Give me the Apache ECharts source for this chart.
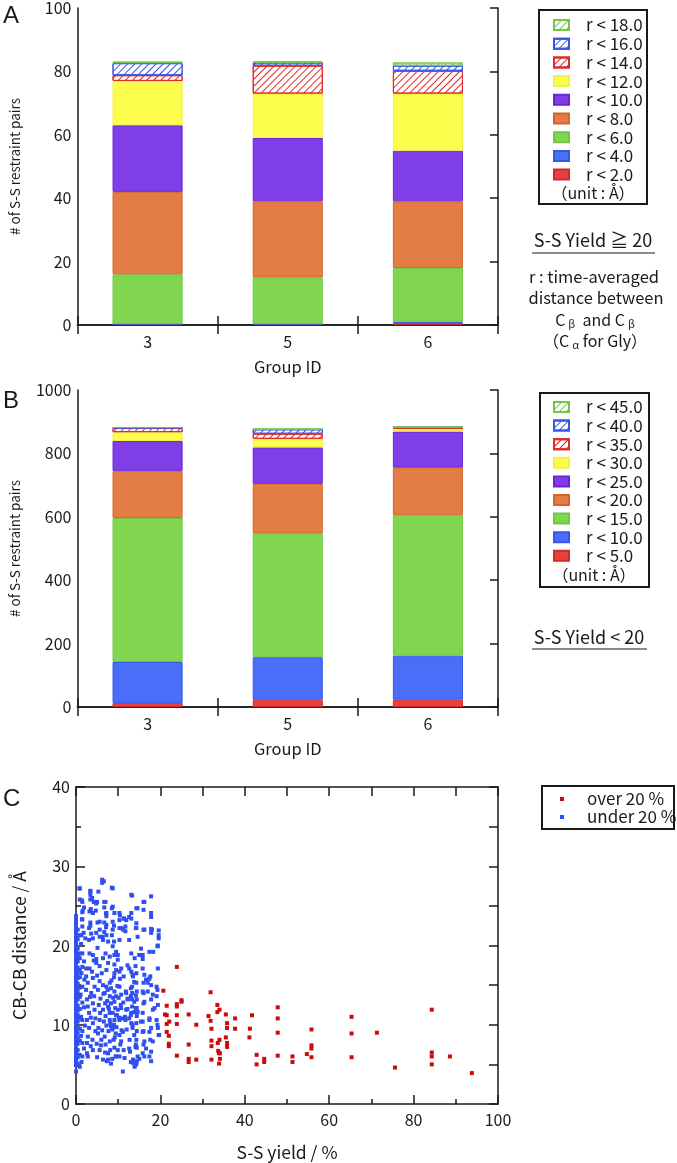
<!DOCTYPE html>
<html><head><meta charset="utf-8">
<script src="https://cdn.jsdelivr.net/npm/echarts@6/dist/echarts.min.js"></script>
<style>html,body{margin:0;padding:0;background:#fff}#c{width:677px;height:1163px}</style>
</head><body><div id="c"></div>
<script>
// ---------- DATA ----------
const groups = ['3', '5', '6'];

// Panel A (S-S Yield >= 20), stacked bottom -> top
const namesA = ['r < 2.0', 'r < 4.0', 'r < 6.0', 'r < 8.0', 'r < 10.0', 'r < 12.0', 'r < 14.0', 'r < 16.0', 'r < 18.0'];
const aR2  = [0.3, 0.3, 0.3];
const aR4  = [0, 0, 0.7];
const aR6  = [15.7, 14.7, 17.0];
const aR8  = [26, 24, 21];
const aR10 = [21, 20, 16];
const aR12 = [14, 14, 18];
const aR14 = [1.8, 8.8, 7.2];
const aR16 = [3.8, 1.0, 1.6];
const aR18 = [0.5, 0.3, 1.0];

// Panel B (S-S Yield < 20)
const namesB = ['r < 5.0', 'r < 10.0', 'r < 15.0', 'r < 20.0', 'r < 25.0', 'r < 30.0', 'r < 35.0', 'r < 40.0', 'r < 45.0'];
const bR5  = [13, 23, 23];
const bR10 = [129, 134, 139];
const bR15 = [454, 391, 444];
const bR20 = [149, 156, 149];
const bR25 = [94, 115, 114];
const bR30 = [28, 27, 9];
const bR35 = [13, 16, 4];
const bR40 = [1.5, 14, 0.5];
const bR45 = [0.5, 1, 0.3];

// Panel C scatter: [S-S yield %, CB-CB distance A]
const overName = 'over 20 %';
const underName = 'under 20 %';
const overPts = [[23.9,17.3],[20.7,14.3],[31.9,14.1],[25.0,13.1],[25.0,12.9],[23.9,12.6],[23.9,12.3],[21.5,12.4],[33.5,12.5],[34.0,11.9],[33.5,11.6],[35.5,11.3],[47.8,12.2],[41.7,11.2],[37.7,10.8],[26.7,11.3],[23.9,11.2],[21.1,11.3],[21.5,11.2],[31.4,11.1],[31.9,10.5],[22.1,10.4],[21.5,10.1],[23.9,10.1],[28.5,10.0],[35.8,10.2],[35.8,9.6],[37.7,9.5],[32.1,9.5],[41.2,9.5],[47.8,10.8],[47.8,9.0],[55.8,9.4],[65.3,11.0],[65.3,8.9],[71.3,9.0],[84.3,11.9],[21.5,9.1],[22.0,8.6],[41.1,8.4],[35.5,8.4],[34.0,8.1],[32.1,8.0],[22.0,7.6],[22.0,7.3],[26.7,7.5],[32.1,7.3],[35.8,7.7],[35.8,7.2],[33.6,7.7],[55.8,7.4],[55.8,7.0],[33.7,6.7],[34.1,6.4],[33.9,6.4],[23.9,6.1],[26.7,5.7],[26.7,5.3],[28.5,5.6],[32.1,5.6],[34.1,5.7],[33.9,5.1],[42.8,6.2],[42.8,5.0],[44.6,5.7],[44.6,5.3],[47.8,6.1],[51.3,6.0],[51.3,5.3],[54.7,6.3],[55.8,5.9],[65.3,5.9],[75.6,4.6],[84.3,6.5],[84.3,6.0],[84.3,5.0],[88.6,6.0],[93.8,3.9]];
const underPts = [
[0,4.1],[0,4.9],[0,5.4],[0,5.8],[0,6.3],[0,6.6],[0,7.0],[0,7.5],[0,7.9],[0,8.2],[0,8.6],[0,9.1],[0,9.4],[0,9.8],[0,10.3],[0,10.6],[0,11.0],[0,11.4],[0,11.9],[0,12.2],[0,12.6],[0,13.1],[0,13.4],[0,13.8],[0,14.3],[0,14.6],[0,15.0],[0,15.5],[0,15.8],[0,16.2],[0,16.7],[0,17.0],[0,17.4],[0,17.9],[0,18.2],[0,18.6],[0,19.1],[0,19.4],[0,19.8],[0,20.3],[0,20.6],[0,21.0],[0,21.5],[0,21.9],[0,22.3],[0,22.8],[0,23.2],[0,23.7],
[0.4,5.1],[0.4,5.9],[0.4,6.8],[0.4,7.6],[0.4,8.4],[0.4,9.0],[0.4,9.7],[0.4,10.4],[0.4,11.2],[0.4,11.8],[0.4,12.4],[0.4,13.2],[0.4,13.9],[0.4,14.4],[0.4,15.2],[0.4,15.9],[0.4,16.5],[0.4,17.2],[0.4,18.0],[0.4,18.8],[0.4,19.6],[0.4,20.8],[0.4,22.0],
[0.9,4.7],[0.9,6.2],[0.9,8.0],[0.9,9.5],[0.9,10.8],[0.9,12.0],[0.9,13.5],[0.9,14.7],[0.9,16.0],[0.9,16.9],[0.9,18.4],[0.9,19.0],[0.9,21.3],[0.9,25.8],[0.9,27.2],
[1.5,6.0],[1.5,7.7],[1.5,9.2],[1.5,10.6],[1.5,12.8],[1.5,14.8],[1.5,17.3],[1.5,19.0],[1.5,22.4],[1.5,23.3],[1.5,24.2],[1.5,25.5],
[2.4,17.1],[3.2,17.1],[3.4,26.9],[3.4,26.4],[3.4,25.8],[5.3,26.8],[4.8,25.3],[6.2,28.3],[6.2,27.9],[7.0,25.5],[8.7,27.2],[8.7,24.9],[13.1,26.4],[16.0,25.5],[17.8,26.2],[3.2,24.3],[4.0,24.1],[7.2,24.1],[7.2,23.7],[9.1,24.1],[10.3,24.1],[10.3,23.2],[11.3,23.4],[11.9,23.2],[13.1,24.1],[13.1,23.4],[14.3,24.7],[16.0,24.5],[17.8,24.1],[17.8,23.6],[5.6,23.0],[5.6,22.0],[7.2,22.6],[4.8,21.6],[1.8,21.6],[3.1,22.2],[8.7,23.0],[8.7,22.0],[10.3,22.2],[11.7,22.4],[11.7,21.8],[14.3,22.8],[14.3,22.2],[16.0,22.0],[17.8,22.1],[17.8,21.6],[19.6,21.9],[19.6,21.3],[19.4,20.0],[5.6,21.1],[6.4,20.7],[7.2,21.3],[7.6,20.5],[3.1,20.7],[10.3,20.7],[8.7,19.9],[9.5,19.2],[3.2,19.0],[4.0,18.8],[7.0,19.0],[8.0,18.6],[9.1,18.8],[9.9,18.8],[9.9,18.2],[13.1,19.0],[13.9,18.4],[15.8,18.8],[15.8,18.3],[18.3,19.2],[4.8,18.3],[4.8,17.8],[5.6,17.4],[7.6,17.8],[7.2,16.9],[9.1,17.6],[9.5,16.9],[9.1,16.5],[10.7,17.1],[11.3,16.1],[13.1,16.7],[13.5,16.1],[14.1,17.4],[14.3,16.5],[14.3,15.3],[16.2,16.3],[16.6,15.7],[17.6,16.1],[19.4,17.1],[2.4,16.1],[2.8,15.3],[2.4,14.4],[4.0,15.9],[4.4,14.8],[5.6,15.5],[5.2,14.4],[6.4,15.0],[7.2,14.8],[6.8,14.0],[8.0,15.3],[8.3,14.6],[8.0,13.6],[9.1,14.2],[9.5,13.6],[9.1,12.9],[10.3,14.8],[10.7,13.8],[11.9,14.0],[12.3,13.2],[13.3,14.8],[13.3,14.0],[13.3,13.2],[13.3,12.3],[14.4,14.2],[14.4,13.2],[14.4,12.1],[14.4,11.1],[16.0,15.3],[16.0,14.0],[16.0,12.7],[17.0,15.3],[17.0,14.2],[17.8,13.2],[18.2,11.9],[19.1,14.8],[19.1,13.6],[19.4,12.5],[2.6,13.2],[2.8,12.3],[3.1,11.5],[4.0,12.7],[4.4,11.9],[5.4,12.5],[5.7,11.5],[5.6,10.6],[6.4,11.9],[7.0,11.1],[7.6,12.3],[8.0,11.5],[8.0,10.6],[8.3,9.8],[8.7,11.5],[9.1,10.6],[8.7,9.6],[9.4,8.9],[9.9,11.9],[10.3,10.6],[11.9,11.9],[11.7,10.6],[12.0,9.4],[13.1,11.5],[13.1,10.2],[14.3,10.2],[14.4,9.2],[14.3,8.1],[15.8,11.5],[15.8,10.4],[16.0,9.2],[17.4,10.6],[17.8,9.6],[17.6,8.1],[19.1,10.6],[19.4,9.6],[19.6,8.7],[2.6,10.6],[3.1,9.6],[2.8,8.5],[4.0,10.2],[4.6,9.2],[5.2,8.9],[6.0,8.1],[6.8,8.5],[7.0,7.5],[7.6,6.4],[8.0,7.9],[8.1,6.8],[8.9,8.1],[9.1,7.1],[9.4,6.0],[10.3,8.7],[10.5,7.5],[11.3,6.8],[11.5,5.8],[12.7,8.1],[12.8,6.6],[13.5,5.6],[13.9,4.7],[14.4,7.1],[14.6,6.0],[16.0,7.5],[15.8,6.4],[17.8,6.6],[17.8,5.4],[2.6,7.7],[2.6,6.4],[2.8,6.0],[4.0,6.8],[5.6,6.8],[7.6,5.6],[9.5,6.0],[11.1,4.1],[7.3,5.4],
[7.4,13.0],[7.8,12.0],[8.3,12.7],[8.8,13.4],[9.3,12.1],[9.7,11.2],[8.1,10.1],[8.6,9.4],[9.0,10.0],[9.6,9.7],[9.2,8.4],[7.2,9.9],[7.7,9.2],[6.6,10.4],[6.9,12.7],[7.5,14.4],[8.4,15.6],[9.0,16.0],[9.8,14.9],[10.1,13.4],[10.6,12.5],[10.2,10.9],[10.8,9.3],[11.2,12.8],[11.6,11.0],[12.2,12.0],[12.6,10.8],[13.0,13.6],[13.4,9.6],[13.8,11.6],[14.2,13.7],[14.6,11.6],[14.1,7.2],[14.4,5.4],[13.9,4.9],[14.3,5.0],[13.5,5.2],
[13.3,26.3],[16.2,25.5],[10.4,23.8],[11.4,23.4],[12.6,23.6],[14.6,24.7],[10.7,22.2],[11.2,22.0],[14.2,22.2],[14.6,21.1],[16.2,22.0],[18.0,22.0],[12.6,20.7],[19.6,20.9],[19.3,19.9],[15.4,19.6],[15.0,18.8],[17.4,19.2],[12.2,17.5],[12.6,17.1],[10.3,16.7],[10.4,15.8],[13.4,16.3],[13.8,15.4],[15.8,17.1],[17.4,15.8],[17.8,15.0],[19.3,14.4],[11.8,14.2],[12.2,13.3],[13.0,14.6],[13.8,12.9],[14.2,12.1],[15.8,14.2],[16.2,12.9],[18.2,13.8],[18.6,12.1],[10.7,12.1],[11.1,10.8],[9.5,11.2],[13.0,11.2],[13.4,10.0],[15.4,10.4],[15.8,9.1],[17.4,10.8],[17.4,9.1],[19.3,10.0],[19.7,8.7],[11.1,9.1],[10.7,7.9],[13.8,8.7],[14.2,7.5],[16.2,7.9],[16.6,7.0],[18.2,7.9],[9.9,6.8],[10.3,6.0],[12.6,7.0],[13.0,5.3],[15.0,5.7],[16.2,6.0],[17.4,6.0],
[6.6,28.1],[0.8,27.2],[3.4,26.8],[3.8,26.0],[8.5,27.3],[1.4,25.7],[4.2,25.5],[5.0,25.5],[6.7,25.5],[1.9,24.8],[1.6,24.4],[3.5,24.6],[4.7,24.4],[8.5,24.7],[6.7,24.8],[7.1,24.0],[3.4,22.9],[3.4,22.5],[5.1,22.9],[1.4,23.3],[6.7,22.9],[7.1,22.3],[9.0,22.5],[1.3,21.3],[2.2,20.9],[3.6,21.5],[4.0,20.9],[6.7,21.7],[6.3,21.1],[8.5,21.3],[9.0,20.5],
[1.2,11.0],[1.9,12.2],[1.1,13.8],[2.0,15.7],[1.3,16.5],[1.9,18.0],[1.2,20.2],[2.1,9.9],[1.2,8.6],[1.9,7.0],[1.3,5.3],[3.6,14.0],[3.3,13.5],[3.8,16.7],[4.2,18.1],[5.0,16.2],[5.8,13.3],[6.1,16.5],[6.4,18.4],[5.1,19.7],[4.3,13.6],[3.5,10.9],[4.6,10.8],[5.3,9.6],[6.2,9.3],[6.5,13.9],[5.9,7.4],[4.9,7.6],[3.9,8.1],[3.5,7.3],[5.0,5.9],[6.4,5.6],[8.3,5.1],[8.6,5.7],[6.9,6.5]
];

// ---------- STYLE ----------
const FONT = '"Noto Sans CJK JP", "Noto Sans", sans-serif';
const INK = '#1a1a1a';
const barStyles = [
  {fill: '#e54141', border: '#d22a2a', hatch: false},
  {fill: '#4a6ef8', border: '#3557ea', hatch: false},
  {fill: '#80d64e', border: '#72c645', hatch: false},
  {fill: '#e37d45', border: '#d5652d', hatch: false},
  {fill: '#7f3ee6', border: '#6b24d8', hatch: false},
  {fill: '#fdfd4e', border: '#f2f245', hatch: false},
  {fill: '#ffffff', border: '#e02a2a', hatch: true},
  {fill: '#ffffff', border: '#3557ea', hatch: true},
  {fill: '#ffffff', border: '#72c645', hatch: true}
];

function barSeries(names, arrays, stack, xi, yi) {
  return names.map((nm, i) => {
    const st = barStyles[i];
    const itemStyle = {color: st.fill, borderColor: st.border, borderWidth: 1};
    if (st.hatch) {
      itemStyle.decal = {symbol: 'rect', symbolSize: 1, dashArrayX: [1, 0], dashArrayY: [1, 4],
        rotation: -Math.PI / 4, color: st.border};
    }
    return {name: nm, type: 'bar', stack: stack, xAxisIndex: xi, yAxisIndex: yi,
      data: arrays[i], barWidth: '50%', itemStyle: itemStyle, emphasis: {disabled: true}};
  });
}

const seriesA = barSeries(namesA, [aR2, aR4, aR6, aR8, aR10, aR12, aR14, aR16, aR18], 'A', 0, 0);
const namesBKey = namesB.map(n => n + ' '); // distinct keys from panel A names
const seriesB = barSeries(namesBKey, [bR5, bR10, bR15, bR20, bR25, bR30, bR35, bR40, bR45], 'B', 2, 2);

const GL = 76, GW = 422, GH = 317;
const grids = [
  {left: GL, top: 8, width: GW, height: GH},
  {left: GL, top: 390, width: GW, height: GH},
  {left: GL, top: 787, width: GW, height: GH}
];
const lineStyle = {color: INK, width: 1.5};
const labelStyle = {fontFamily: FONT, fontSize: 16, color: INK};
const yNameAB = {fontFamily: FONT, fontSize: 13.5, color: INK};
const xNameAB = {fontFamily: FONT, fontSize: 16.5, color: INK};
const nameC = {fontFamily: FONT, fontSize: 17.5, color: INK};

function catAxes(gi) {
  return [
    {type: 'category', gridIndex: gi, data: groups, position: 'bottom',
      axisLine: {show: true, lineStyle}, axisTick: {show: true, inside: true, length: 9, lineStyle},
      axisLabel: Object.assign({margin: 9}, labelStyle),
      name: 'Group ID', nameLocation: 'middle', nameGap: 33, nameTextStyle: xNameAB},
    {type: 'category', gridIndex: gi, data: groups, position: 'top',
      axisLine: {show: true, lineStyle}, axisTick: {show: true, inside: true, length: 9, lineStyle},
      axisLabel: {show: false}}
  ];
}
function valAxesY(gi, max, interval, name) {
  return [
    {type: 'value', gridIndex: gi, min: 0, max: max, interval: interval, position: 'left',
      axisLine: {show: true, lineStyle}, axisTick: {show: false}, splitLine: {show: false},
      axisLabel: Object.assign({margin: 6, formatter: v => String(v)}, labelStyle),
      name: name, nameLocation: 'middle', nameGap: 56, nameRotate: 90, nameTextStyle: yNameAB},
    {type: 'value', gridIndex: gi, min: 0, max: max, interval: interval, position: 'right',
      axisLine: {show: true, lineStyle}, axisTick: {show: true, inside: true, length: 8, lineStyle},
      splitLine: {show: false}, axisLabel: {show: false}}
  ];
}

const xAxes = [].concat(catAxes(0), catAxes(1), [
  {type: 'value', gridIndex: 2, min: 0, max: 100, interval: 20, position: 'bottom',
    axisLine: {show: true, onZero: false, lineStyle}, axisTick: {show: true, inside: true, length: 9, lineStyle},
    minorTick: {show: true, splitNumber: 2, length: 5, lineStyle}, splitLine: {show: false},
    axisLabel: Object.assign({margin: 8}, labelStyle),
    name: 'S-S yield / %', nameLocation: 'middle', nameGap: 40, nameTextStyle: nameC},
  {type: 'value', gridIndex: 2, min: 0, max: 100, interval: 20, position: 'top',
    axisLine: {show: true, onZero: false, lineStyle}, axisTick: {show: true, inside: true, length: 9, lineStyle},
    minorTick: {show: true, splitNumber: 2, length: 9, lineStyle}, splitLine: {show: false}, axisLabel: {show: false}}
]);
const yAxes = [].concat(valAxesY(0, 100, 20, '# of S-S restraint pairs'), valAxesY(1, 1000, 200, '# of S-S restraint pairs'), [
  {type: 'value', gridIndex: 2, min: 0, max: 40, interval: 10, position: 'left',
    axisLine: {show: true, onZero: false, lineStyle}, axisTick: {show: true, inside: true, length: 9, lineStyle},
    minorTick: {show: true, splitNumber: 2, length: 5, lineStyle}, splitLine: {show: false},
    axisLabel: Object.assign({margin: 6}, labelStyle),
    name: 'CB-CB distance / Å', nameLocation: 'middle', nameGap: 48, nameRotate: 90, nameTextStyle: nameC},
  {type: 'value', gridIndex: 2, min: 0, max: 40, interval: 10, position: 'right',
    axisLine: {show: true, onZero: false, lineStyle}, axisTick: {show: true, inside: true, length: 9, lineStyle},
    minorTick: {show: true, splitNumber: 2, length: 9, lineStyle}, splitLine: {show: false}, axisLabel: {show: false}}
]);

const scatterSeries = [
  {name: overName, type: 'scatter', xAxisIndex: 4, yAxisIndex: 4, data: overPts, symbol: 'rect', symbolSize: 4,
    itemStyle: {color: '#cc0a0a', opacity: 1}, emphasis: {disabled: true}},
  {name: underName, type: 'scatter', xAxisIndex: 4, yAxisIndex: 4, data: underPts, symbol: 'rect', symbolSize: 4,
    itemStyle: {color: '#2f4ff0', opacity: 1}, emphasis: {disabled: true}}
];

const legText = {fontFamily: FONT, fontSize: 17, color: INK, lineHeight: 18, padding: [0, 0, 0, 12]};
const legends = [
  {data: namesA.slice().reverse(), orient: 'vertical', left: 553, top: 16, icon: 'rect',
    itemWidth: 15, itemHeight: 10, itemGap: 0.7, textStyle: legText, selectedMode: false, padding: 0},
  {data: namesBKey.slice().reverse(), orient: 'vertical', left: 553, top: 398, icon: 'rect',
    itemWidth: 15, itemHeight: 10, itemGap: 0.6, textStyle: legText, selectedMode: false, padding: 0,
    formatter: n => n.trim()},
  {data: [overName, underName], orient: 'vertical', left: 560, top: 790, icon: 'rect',
    itemWidth: 4, itemHeight: 4, itemGap: 0, textStyle: Object.assign({}, legText, {padding: [0, 0, 0, 18]}),
    selectedMode: false, padding: 0}
];

function txt(x, y, text, size, align, extra) {
  return {type: 'text', x: x, y: y, silent: true,
    style: Object.assign({text: text, fontFamily: FONT, fontSize: size, fill: INK, align: align || 'center', verticalAlign: 'middle'}, extra || {})};
}
function subText(x, y, rich) {
  return {type: 'text', x: x, y: y, silent: true, style: {
    text: rich, align: 'center', verticalAlign: 'middle', fill: INK,
    rich: {a: {fontFamily: FONT, fontSize: 16, fill: INK}, s: {fontFamily: FONT, fontSize: 11, fill: INK, padding: [7, 0, 0, 3]}}}};
}
const boxStyle = {fill: 'none', stroke: INK, lineWidth: 2};
const panelFont = 'Liberation Sans, sans-serif';
const graphics = [
  {type: 'rect', shape: {x: 539, y: 10, width: 108, height: 194}, style: boxStyle, silent: true},
  {type: 'rect', shape: {x: 540, y: 393, width: 109, height: 194}, style: boxStyle, silent: true},
  {type: 'rect', shape: {x: 542, y: 786, width: 132, height: 43}, style: boxStyle, silent: true},
  txt(593, 193, '（unit : Å）', 16),
  txt(594, 575, '（unit : Å）', 16),
  {type: 'text', x: 3, y: 16, silent: true, style: {text: 'A', fontFamily: panelFont, fontSize: 24, fill: INK, verticalAlign: 'middle'}},
  {type: 'text', x: 3, y: 401, silent: true, style: {text: 'B', fontFamily: panelFont, fontSize: 24, fill: INK, verticalAlign: 'middle'}},
  {type: 'text', x: 3, y: 799, silent: true, style: {text: 'C', fontFamily: panelFont, fontSize: 24, fill: INK, verticalAlign: 'middle'}},
  txt(593, 240, 'S-S Yield ≧ 20', 18),
  {type: 'line', shape: {x1: 532, y1: 253, x2: 655, y2: 253}, style: {stroke: INK, lineWidth: 1.2}, silent: true},
  txt(594, 277, 'r : time-averaged', 16.5),
  txt(596, 298, 'distance between', 16.5),
  subText(595, 320, '{a|C}{s|β}{a|  and C}{s|β}'),
  subText(595, 341, '{a|（C}{s|α}{a| for Gly）}'),
  txt(589, 637, 'S-S Yield < 20', 18),
  {type: 'line', shape: {x1: 532, y1: 649, x2: 647, y2: 649}, style: {stroke: INK, lineWidth: 1.2}, silent: true}
];

const chart = echarts.init(document.getElementById('c'), null, {renderer: 'canvas'});
chart.setOption({
  animation: false,
  backgroundColor: '#fff',
  grid: grids,
  xAxis: xAxes,
  yAxis: yAxes,
  legend: legends,
  series: [].concat(seriesA, seriesB, scatterSeries),
  graphic: graphics
});
</script></body></html>
